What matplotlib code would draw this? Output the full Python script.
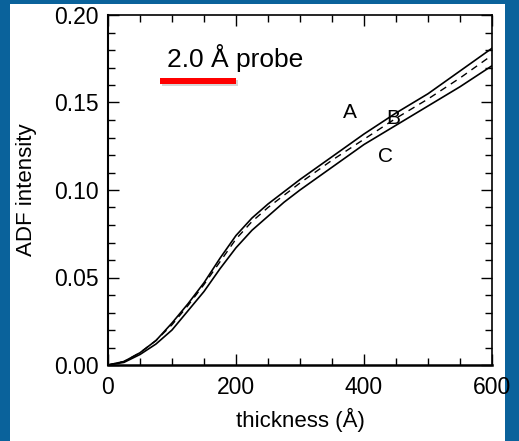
import matplotlib
matplotlib.use("Agg")
import matplotlib.pyplot as plt
from matplotlib.patches import Rectangle
from matplotlib.ticker import MultipleLocator

plt.rcParams['font.family'] = ['Liberation Sans', 'DejaVu Sans']

# thickness (Angstrom) and ADF intensity
thickness = [0, 25, 50, 75, 100, 125, 150, 175, 200, 225, 250, 275, 300, 350, 400, 450, 500, 550, 600]
curve_a = [0, 0.002, 0.007, 0.014, 0.024, 0.035, 0.047, 0.061, 0.074, 0.084, 0.092, 0.099, 0.106,
           0.119, 0.132, 0.144, 0.155, 0.168, 0.181]
curve_b = [0, 0.002, 0.007, 0.014, 0.023, 0.034, 0.046, 0.059, 0.072, 0.082, 0.090, 0.097, 0.104,
           0.117, 0.129, 0.141, 0.152, 0.164, 0.177]
curve_c = [0, 0.0015, 0.006, 0.012, 0.020, 0.031, 0.042, 0.055, 0.067, 0.077, 0.085, 0.093, 0.100,
           0.113, 0.126, 0.137, 0.148, 0.159, 0.171]

fig = plt.figure(figsize=(5.19, 4.41), dpi=100)
fig.patch.set_facecolor('#0a629b')
# white panel inside the blue frame
fig.add_artist(Rectangle((10 / 519, 0), 495 / 519, 437 / 441, transform=fig.transFigure,
                         facecolor='white', edgecolor='none', zorder=0))

ax = fig.add_axes([108 / 519, 76 / 441, 384 / 519, 350 / 441])
ax.set_facecolor('white')

ax.plot(thickness, curve_a, color='black', lw=1.2)
ax.plot(thickness, curve_b, color='black', lw=1.0, ls=(0, (5, 4)))
ax.plot(thickness, curve_c, color='black', lw=1.2)

ax.set_xlim(0, 600)
ax.set_ylim(0, 0.20)
ax.xaxis.set_major_locator(MultipleLocator(200))
ax.xaxis.set_minor_locator(MultipleLocator(50))
ax.yaxis.set_major_locator(MultipleLocator(0.05))
ax.yaxis.set_minor_locator(MultipleLocator(0.01))
ax.yaxis.set_major_formatter(matplotlib.ticker.FormatStrFormatter('%.2f'))

ax.tick_params(which='both', direction='in', top=True, right=True, labelsize=16.5, width=1.0)
ax.tick_params(which='major', length=8)
ax.tick_params(which='minor', length=5)
ax.tick_params(axis='x', which='major', pad=8)
ax.tick_params(axis='y', which='major', pad=7)
for s in ax.spines.values():
    s.set_linewidth(1.2)
ax.spines['bottom'].set_linewidth(1.8)
ax.spines['left'].set_linewidth(1.5)

ax.set_xlabel('thickness (Å)', fontsize=16, labelpad=6)
ax.set_ylabel('ADF intensity', fontsize=16, labelpad=12)

ax.text(378, 0.144, 'A', fontsize=15, ha='center', va='center')
ax.text(445, 0.141, 'B', fontsize=15, ha='center', va='center')
ax.text(434, 0.119, 'C', fontsize=15, ha='center', va='center')

fig.text(167 / 519, 1 - 58 / 441, '2.0 Å probe', fontsize=19, ha='left', va='center')
# red underline with a faint shadow
fig.add_artist(Rectangle((162 / 519, 1 - 86 / 441), 76 / 519, 6 / 441, transform=fig.transFigure,
                         facecolor='#bbbbbb', edgecolor='none', alpha=0.6, zorder=3))
fig.add_artist(Rectangle((160 / 519, 1 - 84 / 441), 76 / 519, 6 / 441, transform=fig.transFigure,
                         facecolor='#ff0000', edgecolor='none', zorder=4))

fig.savefig('out.png', dpi=100, facecolor=fig.get_facecolor())
